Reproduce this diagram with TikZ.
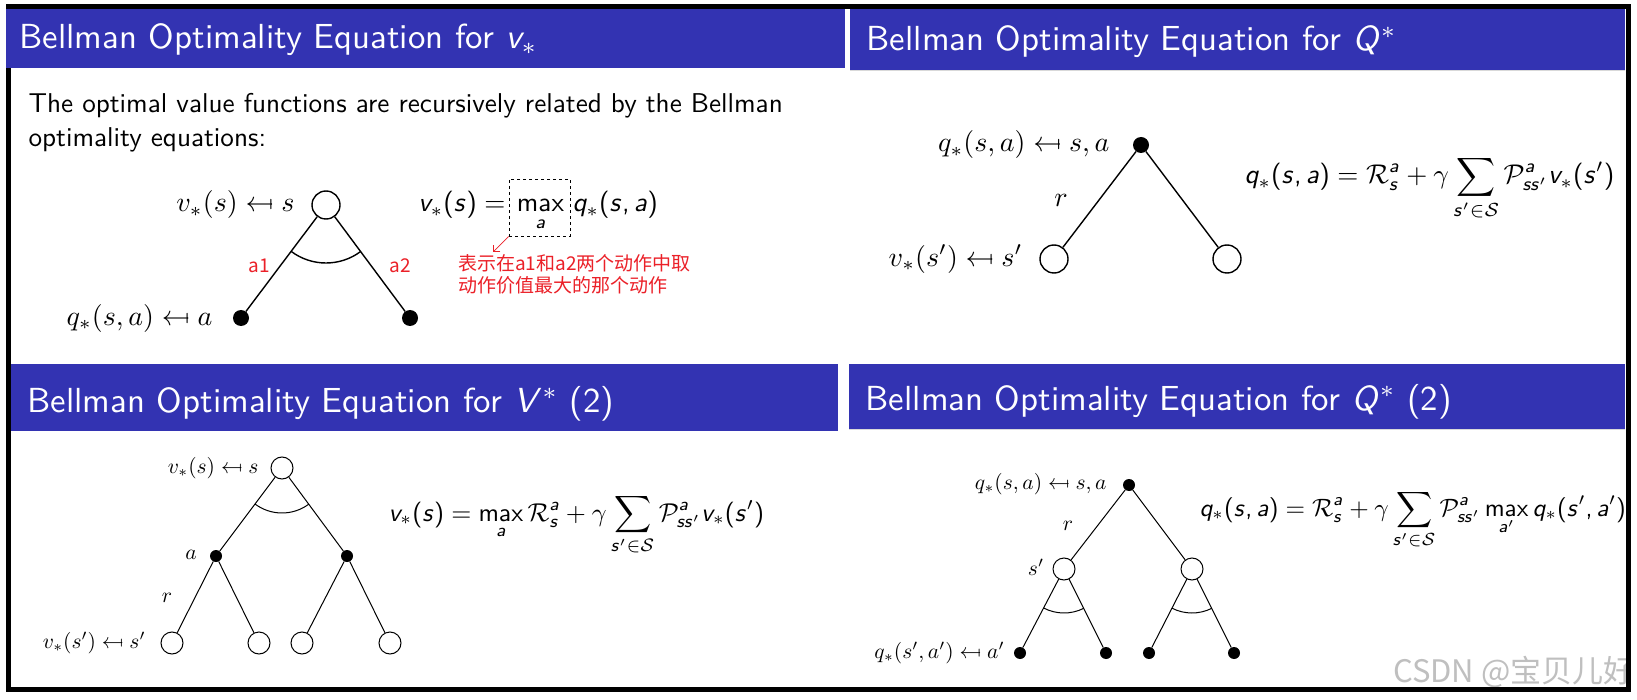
\documentclass[tikz,border=0pt]{standalone}
\usepackage{amsmath}
\usepackage[no-math]{fontspec}
\newfontfamily\cjk{Noto Sans CJK SC}
\usetikzlibrary{calc,arrows.meta}
\definecolor{beamblue}{RGB}{51,51,178}
\definecolor{redann}{RGB}{235,32,40}
\DeclareSymbolFont{mitfix}{OML}{cmm}{m}{it}
\DeclareMathSymbol{\gamma}{\mathord}{mitfix}{"0D}
\DeclareMathVersion{sans}
\SetSymbolFont{operators}{sans}{OT1}{cmss}{m}{n}
\SetSymbolFont{letters}{sans}{OT1}{cmss}{m}{sl}
\SetSymbolFont{symbols}{sans}{OMS}{cmsy}{m}{n}
\SetSymbolFont{largesymbols}{sans}{OMX}{cmex}{m}{n}
\mathcode`\,="602C
\newcommand\mfrom{\mathrel{\leftarrow\mkern-3mu\mapstochar\mkern3mu}}
\newcommand\sveq[1]{{\mathversion{sans}$\displaystyle #1$}}
\newcommand\angarc[5]{\draw[#1] let \p1=($(#3)-(#2)$), \p2=($(#4)-(#2)$), \n1={atan2(\y1,\x1)}, \n2={atan2(\y2,\x2)} in ($(#2)!#5!(#3)$) arc[start angle=\n1, end angle=\n2, radius=#5];}
\tikzset{
  hdr/.style={fill=beamblue, draw=none},
  ttl/.style={anchor=base west, inner sep=0, text=white, font=\sffamily, scale=3.48},
  body/.style={anchor=base west, inner sep=0, font=\sffamily, scale=2.72},
  opnA/.style={circle, draw, fill=white, line width=1.4pt, minimum size=28pt, inner sep=0},
  solA/.style={circle, fill=black, minimum size=16pt, inner sep=0},
  edgeA/.style={line width=1.4pt},
  opnB/.style={circle, draw, fill=white, line width=1pt, minimum size=22pt, inner sep=0},
  solB/.style={circle, fill=black, minimum size=12pt, inner sep=0},
  edgeB/.style={line width=1pt},
  lblA/.style={inner sep=0, scale=2.8},
  lblB/.style={inner sep=0, scale=2.15},
  eqn/.style={anchor=base west, inner sep=0},
  redlbl/.style={inner sep=0, text=redann, font=\cjk\fontsize{19}{22}\selectfont},
}
\begin{document}
\begin{tikzpicture}[x=1pt,y=-1pt]
\useasboundingbox (0,0) rectangle (1637,700);
\fill[white] (0,0) rectangle (1637,700);
% watermark
\begin{scope}
\clip (11,9) rectangle (1626,687);
\node[anchor=base west, inner sep=0, text=black!25, font=\cjk\fontsize{31}{34}\selectfont] (wm) at (1393,682) {CSDN @宝贝儿好};
\end{scope}
% frame
\draw[line width=5pt] (8.5,6.5) rectangle (1628.5,689.5);
% headers
\fill[hdr] (6,9) rectangle (845,68);
\fill[hdr] (850,9) rectangle (1625,70);
\fill[hdr] (11,364) rectangle (838,431);
\fill[hdr] (849,364) rectangle (1625,429);
\draw[black!15, line width=1pt] (850,70.5) -- (1625,70.5);
\draw[black!15, line width=1pt] (849,429.5) -- (1625,429.5);
% titles
\node[ttl] (t1) at (19,49) {Bellman Optimality Equation for {\mathversion{sans}$v_*$}};
\node[ttl] (t2) at (866,51) {Bellman Optimality Equation for {\mathversion{sans}$Q^*$}};
\node[ttl] (t3) at (27,412) {Bellman Optimality Equation for {\mathversion{sans}$V^*$} (2)};
\node[ttl] (t4) at (865,410) {Bellman Optimality Equation for {\mathversion{sans}$Q^*$} (2)};
% body text
\node[body] (b1) at (28,113) {The optimal value functions are recursively related by the Bellman};
\node[body] (b2) at (28,147) {optimality equations:};

% ---------- top-left tree
\node[opnA] (tlr) at (326,205) {};
\node[solA] (tll) at (241,318) {};
\node[solA] (tlrr) at (410,318) {};
\draw[edgeA] (tlr) -- (tll);
\draw[edgeA] (tlr) -- (tlrr);
\angarc{edgeA}{tlr}{tll}{tlrr}{58pt}
\node[lblA, anchor=east] (tlL1) at (295,205) {$v_*(s)\mfrom s$};
\node[lblA, anchor=east] (tlL2) at (213,318) {$q_*(s,a)\mfrom a$};
\node[redlbl] (ra1) at (259,266) {a1};
\node[redlbl] (ra2) at (400,266) {a2};
\node[eqn, anchor=base east, scale=2.71] (eq1a) at (506,212) {\sveq{v_*(s) =}};
\node[inner sep=0, anchor=base, scale=2.71] (eq1b) at (540.5,212) {\sveq{\max_{a}}};
\node[eqn, scale=2.71] (eq1c) at (572,212) {\sveq{q_*(s,a)}};
\node[draw, dashed, line width=0.8pt, minimum width=61pt, minimum height=57pt, inner sep=0] (dbox) at (539.5,207.5) {};
\coordinate (tip) at (493,252);
\draw[redann, line width=0.7pt, -{Straight Barb[length=5pt]}] (dbox.south west) -- (tip);
\node[redlbl, anchor=base west] (rt1) at (458,271) {表示在a1和a2两个动作中取};
\node[redlbl, anchor=base west] (rt2) at (458,293) {动作价值最大的那个动作};

% ---------- top-right tree
\node[solA] (trr) at (1141,145) {};
\node[opnA] (trl) at (1054,259) {};
\node[opnA] (trrr) at (1227,259) {};
\draw[edgeA] (trr) -- (trl);
\draw[edgeA] (trr) -- (trrr);
\node[lblA, anchor=east] (trL1) at (1110,145) {$q_*(s,a)\mfrom s,a$};
\node[lblA] (trR) at (1061,200) {$r$};
\node[lblA, anchor=east] (trL2) at (1023,259) {$v_*(s')\mfrom s'$};
\node[eqn, scale=2.71] (eq2) at (1244,184) {\sveq{q_*(s,a) = \mathcal{R}^a_s + \gamma\sum_{s'\in\mathcal{S}}\mathcal{P}^a_{ss'}v_*(s')}};

% ---------- bottom-left tree
\node[opnB] (blr) at (282,468) {};
\node[solB] (bla) at (216,556) {};
\node[solB] (blb) at (347,556) {};
\node[opnB] (bl1) at (172,643) {};
\node[opnB] (bl2) at (259,643) {};
\node[opnB] (bl3) at (302,643) {};
\node[opnB] (bl4) at (390,643) {};
\draw[edgeB] (blr) -- (bla);
\draw[edgeB] (blr) -- (blb);
\draw[edgeB] (bla) -- (bl1);
\draw[edgeB] (bla) -- (bl2);
\draw[edgeB] (blb) -- (bl3);
\draw[edgeB] (blb) -- (bl4);
\angarc{edgeB}{blr}{bla}{blb}{45pt}
\node[lblB, anchor=east] (blL1) at (259,468) {$v_*(s)\mfrom s$};
\node[lblB] (blA) at (191,555) {$a$};
\node[lblB] (blR) at (167,598) {$r$};
\node[lblB, anchor=east] (blL2) at (146,643) {$v_*(s')\mfrom s'$};
\node[eqn, scale=2.58] (eq3) at (388,521) {\sveq{v_*(s) = \max_{a}\mathcal{R}^a_s + \gamma\sum_{s'\in\mathcal{S}}\mathcal{P}^a_{ss'}v_*(s')}};

% ---------- bottom-right tree
\node[solB] (brr) at (1129,485) {};
\node[opnB] (brs1) at (1064,569) {};
\node[opnB] (brs2) at (1192,569) {};
\node[solB] (br1) at (1020,653) {};
\node[solB] (br2) at (1106,653) {};
\node[solB] (br3) at (1149,653) {};
\node[solB] (br4) at (1234,653) {};
\draw[edgeB] (brr) -- (brs1);
\draw[edgeB] (brr) -- (brs2);
\draw[edgeB] (brs1) -- (br1);
\draw[edgeB] (brs1) -- (br2);
\draw[edgeB] (brs2) -- (br3);
\draw[edgeB] (brs2) -- (br4);
\angarc{edgeB}{brs1}{br1}{br2}{44pt}
\angarc{edgeB}{brs2}{br3}{br4}{44pt}
\node[lblB, anchor=east] (brL1) at (1107,484) {$q_*(s,a)\mfrom s,a$};
\node[lblB] (brR) at (1068,526) {$r$};
\node[lblB] (brS) at (1036,567) {$s'$};
\node[lblB, anchor=east] (brL2) at (1005,653) {$q_*(s',a')\mfrom a'$};
\node[eqn, scale=2.51] (eq4) at (1199,516) {\sveq{q_*(s,a) = \mathcal{R}^a_s + \gamma\sum_{s'\in\mathcal{S}}\mathcal{P}^a_{ss'}\max_{a'} q_*(s',a')}};
\end{tikzpicture}
\end{document}
